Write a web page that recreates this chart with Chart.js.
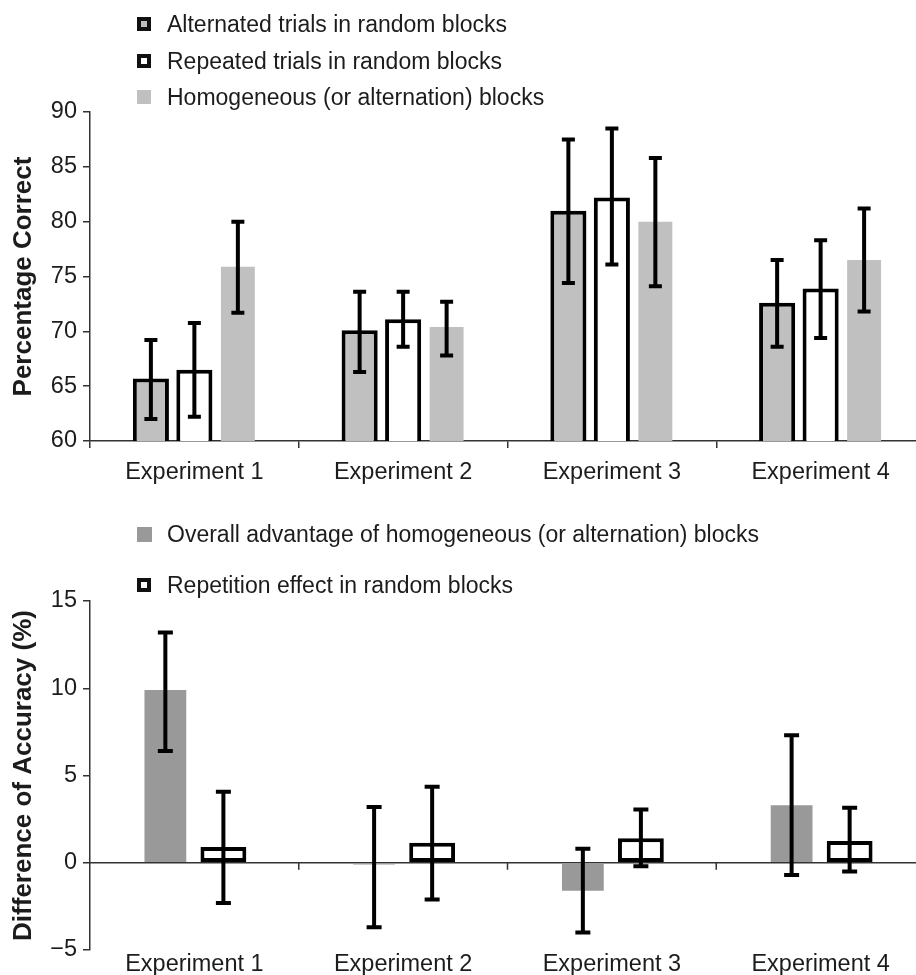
<!DOCTYPE html>
<html>
<head>
<meta charset="utf-8">
<script src="https://cdn.jsdelivr.net/npm/chart.js@4.4.0/dist/chart.umd.min.js"></script>
<style>
  html, body { margin: 0; padding: 0; background: #fff; overflow: hidden; width: 916px; height: 975px; }
  #wrap { position: relative; width: 916px; height: 975px; overflow: hidden; font-family: "Liberation Sans", Arial, sans-serif; color: #1c1c1c; }
  .box { position: absolute; left: 0; width: 935px; }
  .lg { position: absolute; left: 137px; font-size: 23px; line-height: 1; white-space: nowrap; }
  .lg i { position: absolute; left: 0; top: 50%; box-sizing: border-box; width: 14px; height: 14px; margin-top: -7px; }
  .lg span { position: absolute; left: 30px; top: 50%; transform: translateY(-50%); }
</style>
</head>
<body>
<div id="wrap">
  <div class="box" style="top:0;height:495px"><canvas id="c1"></canvas></div>
  <div class="box" style="top:500px;height:475px"><canvas id="c2"></canvas></div>

  <div class="lg" style="top:24px"><i style="border:4px solid #111;background:#c0c0c0"></i><span>Alternated trials in random blocks</span></div>
  <div class="lg" style="top:61px"><i style="border:4px solid #111;background:#fff"></i><span>Repeated trials in random blocks</span></div>
  <div class="lg" style="top:97px"><i style="background:#c0c0c0"></i><span>Homogeneous (or alternation) blocks</span></div>

  <div class="lg" style="top:534px"><i style="background:#999;width:15px;height:15px;margin-top:-7px"></i><span>Overall advantage of homogeneous (or alternation) blocks</span></div>
  <div class="lg" style="top:585px"><i style="border:4px solid #111;background:#fff"></i><span>Repetition effect in random blocks</span></div>
</div>
<script>
const experiments = ['Experiment 1', 'Experiment 2', 'Experiment 3', 'Experiment 4'];

// upper panel: percentage correct
const alternated = [65.7, 70.1, 81.0, 72.6];
const alternatedHi = [69.2, 73.6, 87.5, 76.5];
const alternatedLo = [62.0, 66.3, 74.4, 68.6];
const repeated = [66.5, 71.1, 82.2, 73.9];
const repeatedHi = [70.75, 73.6, 88.5, 78.3];
const repeatedLo = [62.2, 68.6, 76.1, 69.4];
const homogeneous = [75.9, 70.4, 80.0, 76.5];
const homogeneousHi = [80.0, 72.7, 85.8, 81.2];
const homogeneousLo = [71.7, 67.8, 74.1, 71.8];

// lower panel: difference of accuracy
const advantage = [9.9, -0.1, -1.6, 3.3];
const advantageHi = [13.2, 3.2, 0.8, 7.3];
const advantageLo = [6.4, -3.7, -4.0, -0.7];
const repetition = [0.9, 1.15, 1.4, 1.25];
const repetitionHi = [4.07, 4.35, 3.05, 3.15];
const repetitionLo = [-2.3, -2.1, -0.2, -0.5];

const FONT = '"Liberation Sans", Arial, sans-serif';
const INK = '#1c1c1c';
Chart.defaults.font.family = FONT;
Chart.defaults.color = INK;
Chart.defaults.animation = false;

// error bars from hi/lo arrays on each dataset
const errorBars = {
  id: 'errorBars',
  afterDatasetsDraw(chart, args, opts) {
    const { ctx } = chart;
    const y = chart.scales.y;
    ctx.save();
    ctx.strokeStyle = '#000';
    ctx.lineWidth = 4;
    chart.data.datasets.forEach((ds, di) => {
      if (!ds.errHi) return;
      chart.getDatasetMeta(di).data.forEach((bar, i) => {
        const top = y.getPixelForValue(ds.errHi[i]);
        const bot = y.getPixelForValue(ds.errLo[i]);
        const w = opts.cap / 2;
        ctx.beginPath();
        ctx.moveTo(bar.x, top); ctx.lineTo(bar.x, bot);
        ctx.moveTo(bar.x - w, top); ctx.lineTo(bar.x + w, top);
        ctx.moveTo(bar.x - w, bot); ctx.lineTo(bar.x + w, bot);
        ctx.stroke();
      });
    });
    ctx.restore();
  },
};

// zero line with category ticks (lower panel)
const zeroAxis = {
  id: 'zeroAxis',
  beforeDatasetsDraw(chart) {
    const { ctx, chartArea } = chart;
    const x = chart.scales.x;
    const y0 = chart.scales.y.getPixelForValue(0);
    ctx.save();
    ctx.strokeStyle = '#333';
    ctx.lineWidth = 1.5;
    ctx.beginPath();
    ctx.moveTo(chartArea.left, y0); ctx.lineTo(chartArea.right, y0);
    for (let i = 0; i < experiments.length - 1; i++) {
      const px = x.getPixelForValue(i + 0.5);
      ctx.moveTo(px, y0); ctx.lineTo(px, y0 + 7);
    }
    ctx.stroke();
    ctx.restore();
  },
};

const yTitle = (text) => ({
  display: true, text, color: INK,
  font: { size: 26, weight: 'bold', family: FONT },
  padding: { top: 8, bottom: 0 },
});

const chart1 = new Chart(document.getElementById('c1'), {
  type: 'bar',
  data: {
    labels: experiments,
    datasets: [
      { label: 'Alternated trials in random blocks', data: alternated, errHi: alternatedHi, errLo: alternatedLo,
        backgroundColor: '#c0c0c0', borderColor: '#000', borderWidth: 4, borderSkipped: false, barPercentage: 0.83 },
      { label: 'Repeated trials in random blocks', data: repeated, errHi: repeatedHi, errLo: repeatedLo,
        backgroundColor: '#fff', borderColor: '#000', borderWidth: 4, borderSkipped: false, barPercentage: 0.83 },
      { label: 'Homogeneous (or alternation) blocks', data: homogeneous, errHi: homogeneousHi, errLo: homogeneousLo,
        backgroundColor: '#c0c0c0', borderWidth: 0, barPercentage: 0.78 },
    ],
  },
  options: {
    responsive: true, maintainAspectRatio: false,
    layout: { padding: { top: 112, right: 10, left: 0, bottom: 0 } },
    categoryPercentage: 0.625,
    plugins: { legend: { display: false }, tooltip: { enabled: false }, errorBars: { cap: 13 } },
    scales: {
      x: {
        grid: { display: true, drawOnChartArea: false, drawTicks: true, tickLength: 7, color: '#333', lineWidth: 1.5 },
        border: { display: true, color: '#333', width: 1.5 },
        ticks: { font: { size: 23.5 }, color: INK, padding: 10, maxRotation: 0 },
        afterFit(s) { s.height = 54; },
      },
      y: {
        min: 60, max: 90,
        grid: { display: true, drawOnChartArea: false, drawTicks: true, tickLength: 7, color: '#333', lineWidth: 1.5 },
        border: { display: true, color: '#333', width: 1.5 },
        ticks: { stepSize: 5, font: { size: 23.5 }, color: INK, padding: 6 },
        title: yTitle('Percentage Correct'),
        afterFit(s) { s.width = 90; },
      },
    },
  },
  plugins: [errorBars],
});

const chart2 = new Chart(document.getElementById('c2'), {
  type: 'bar',
  data: {
    labels: experiments,
    datasets: [
      { label: 'Overall advantage of homogeneous (or alternation) blocks', data: advantage, errHi: advantageHi, errLo: advantageLo,
        backgroundColor: '#999', borderWidth: 0, barPercentage: 0.72 },
      { label: 'Repetition effect in random blocks', data: repetition, errHi: repetitionHi, errLo: repetitionLo,
        backgroundColor: '#fff', borderColor: '#000', borderWidth: 4, borderSkipped: false, barPercentage: 0.79 },
    ],
  },
  options: {
    responsive: true, maintainAspectRatio: false,
    layout: { padding: { top: 101, right: 10, left: 0, bottom: 0 } },
    categoryPercentage: 0.556,
    plugins: { legend: { display: false }, tooltip: { enabled: false }, errorBars: { cap: 15 } },
    scales: {
      x: {
        grid: { display: false, drawTicks: false },
        border: { display: false },
        ticks: { font: { size: 23.5 }, color: INK, padding: 0, maxRotation: 0 },
        afterFit(s) { s.height = 25; },
      },
      y: {
        min: -5, max: 15,
        grid: { display: true, drawOnChartArea: false, drawTicks: true, tickLength: 7, color: '#333', lineWidth: 1.5 },
        border: { display: true, color: '#333', width: 1.5 },
        ticks: { stepSize: 5, font: { size: 23.5 }, color: INK, padding: 6,
          callback: (v) => (v < 0 ? '\u2212' + Math.abs(v) : String(v)) },
        title: yTitle('Difference of Accuracy (%)'),
        afterFit(s) { s.width = 90; },
      },
    },
  },
  plugins: [zeroAxis, errorBars],
});
</script>
</body>
</html>
